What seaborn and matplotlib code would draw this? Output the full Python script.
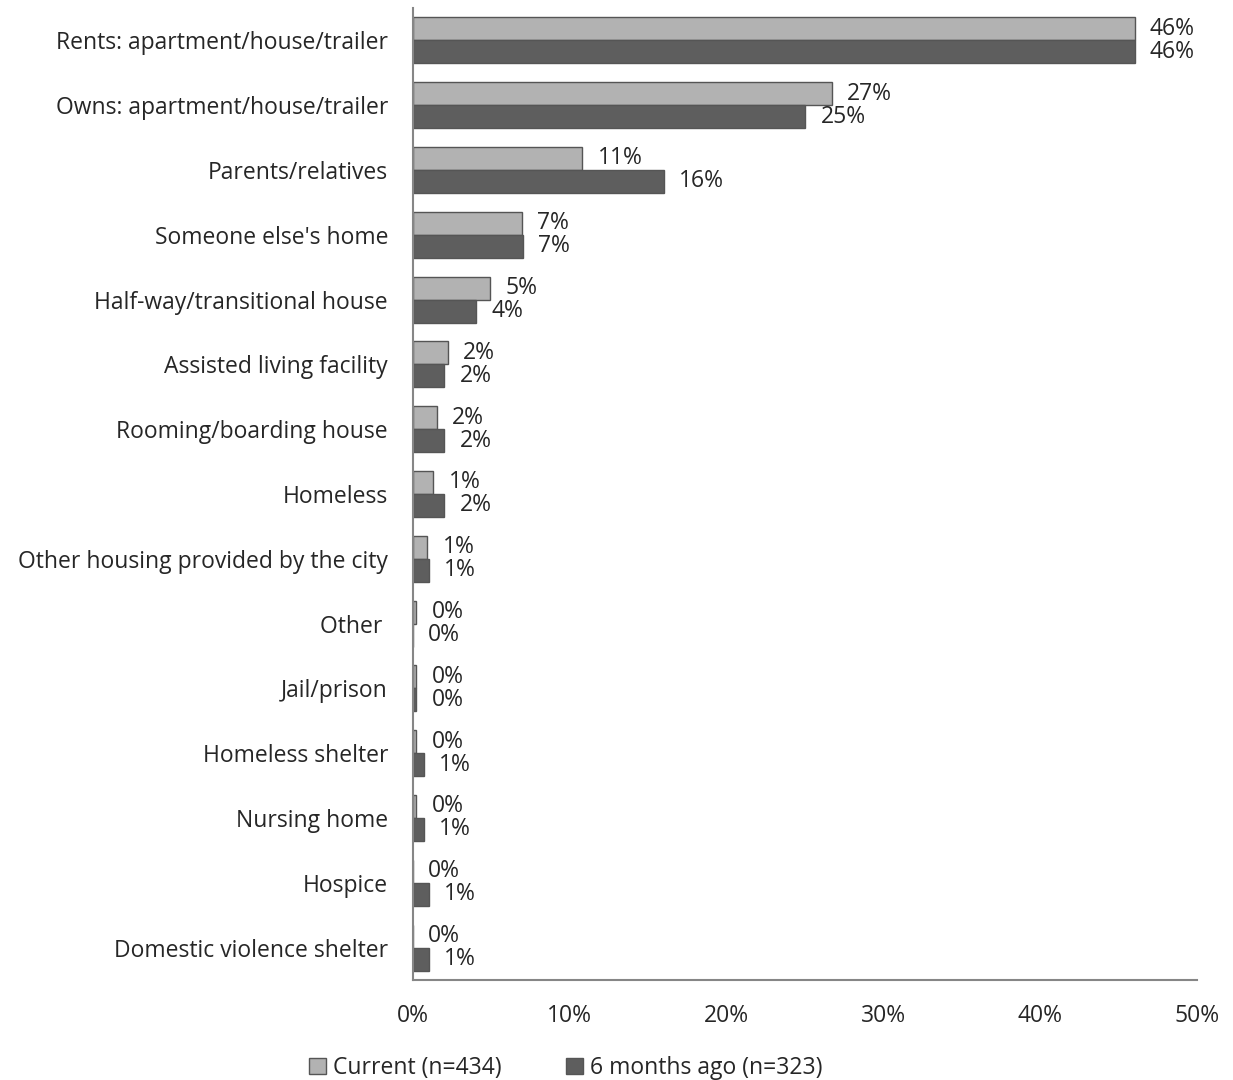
import matplotlib
matplotlib.use("Agg")
import matplotlib.pyplot as plt
from matplotlib.patches import Patch
from matplotlib.ticker import PercentFormatter
import seaborn as sns
import pandas as pd

# categories (top to bottom)
places = ["Rents: apartment/house/trailer", "Owns: apartment/house/trailer",
          "Parents/relatives", "Someone else's home", "Half-way/transitional house",
          "Assisted living facility", "Rooming/boarding house", "Homeless",
          "Other housing provided by the city", "Other ", "Jail/prison",
          "Homeless shelter", "Nursing home", "Hospice", "Domestic violence shelter"]

# percentages
current = [46.0, 26.7, 10.8, 6.95, 4.9, 2.2, 1.5, 1.3, 0.9, 0.2, 0.2, 0.2, 0.2, 0.0, 0.0]
six_months = [46.0, 25.0, 16.0, 7.0, 4.0, 2.0, 2.0, 2.0, 1.0, 0.0, 0.2, 0.7, 0.7, 1.0, 1.0]

current_labels = ["46%", "27%", "11%", "7%", "5%", "2%", "2%", "1%", "1%", "0%", "0%", "0%", "0%", "0%", "0%"]
six_labels = ["46%", "25%", "16%", "7%", "4%", "2%", "2%", "2%", "1%", "0%", "0%", "1%", "1%", "1%", "1%"]

series_names = ["Current (n=434)", "6 months ago (n=323)"]
colors = ["#B2B2B2", "#5E5E5E"]

df = pd.DataFrame({
    "place": places * 2,
    "pct": current + six_months,
    "when": [series_names[0]] * len(places) + [series_names[1]] * len(places),
})

sns.set_style("white")
plt.rcParams["font.family"] = ["Open Sans", "DejaVu Sans"]
fs = 16.5

fig = plt.figure(figsize=(12.33, 10.8), dpi=100)
ax = fig.add_axes([0.335, 0.0926, 0.636, 0.9])

sns.barplot(data=df, y="place", x="pct", hue="when", orient="h",
            palette=colors, width=0.71, edgecolor="#555555", linewidth=1,
            legend=False, ax=ax)

# value labels
for cont, labels in zip(ax.containers, [current_labels, six_labels]):
    ax.bar_label(cont, labels=labels, padding=11, fontsize=fs)

ax.set_xlim(0, 50)
ax.xaxis.set_major_formatter(PercentFormatter(decimals=0))
ax.set_xticks(range(0, 51, 10))
ax.set_xlabel("")
ax.set_ylabel("")
ax.tick_params(axis="x", labelsize=fs, pad=17, length=0)
ax.tick_params(axis="y", labelsize=fs, pad=18, length=0)

sns.despine(ax=ax, top=True, right=True)
for s in ["left", "bottom"]:
    ax.spines[s].set_color("#868686")
    ax.spines[s].set_linewidth(1.5)

handles = [Patch(facecolor=c, edgecolor="#555555", label=n) for c, n in zip(colors, series_names)]
fig.legend(handles=handles, loc="lower center", bbox_to_anchor=(0.459, -0.019), ncol=2,
           frameon=False, fontsize=fs, handlelength=0.75, handleheight=0.75,
           handletextpad=0.3, columnspacing=2.8)

fig.savefig("out.png", dpi=100)
